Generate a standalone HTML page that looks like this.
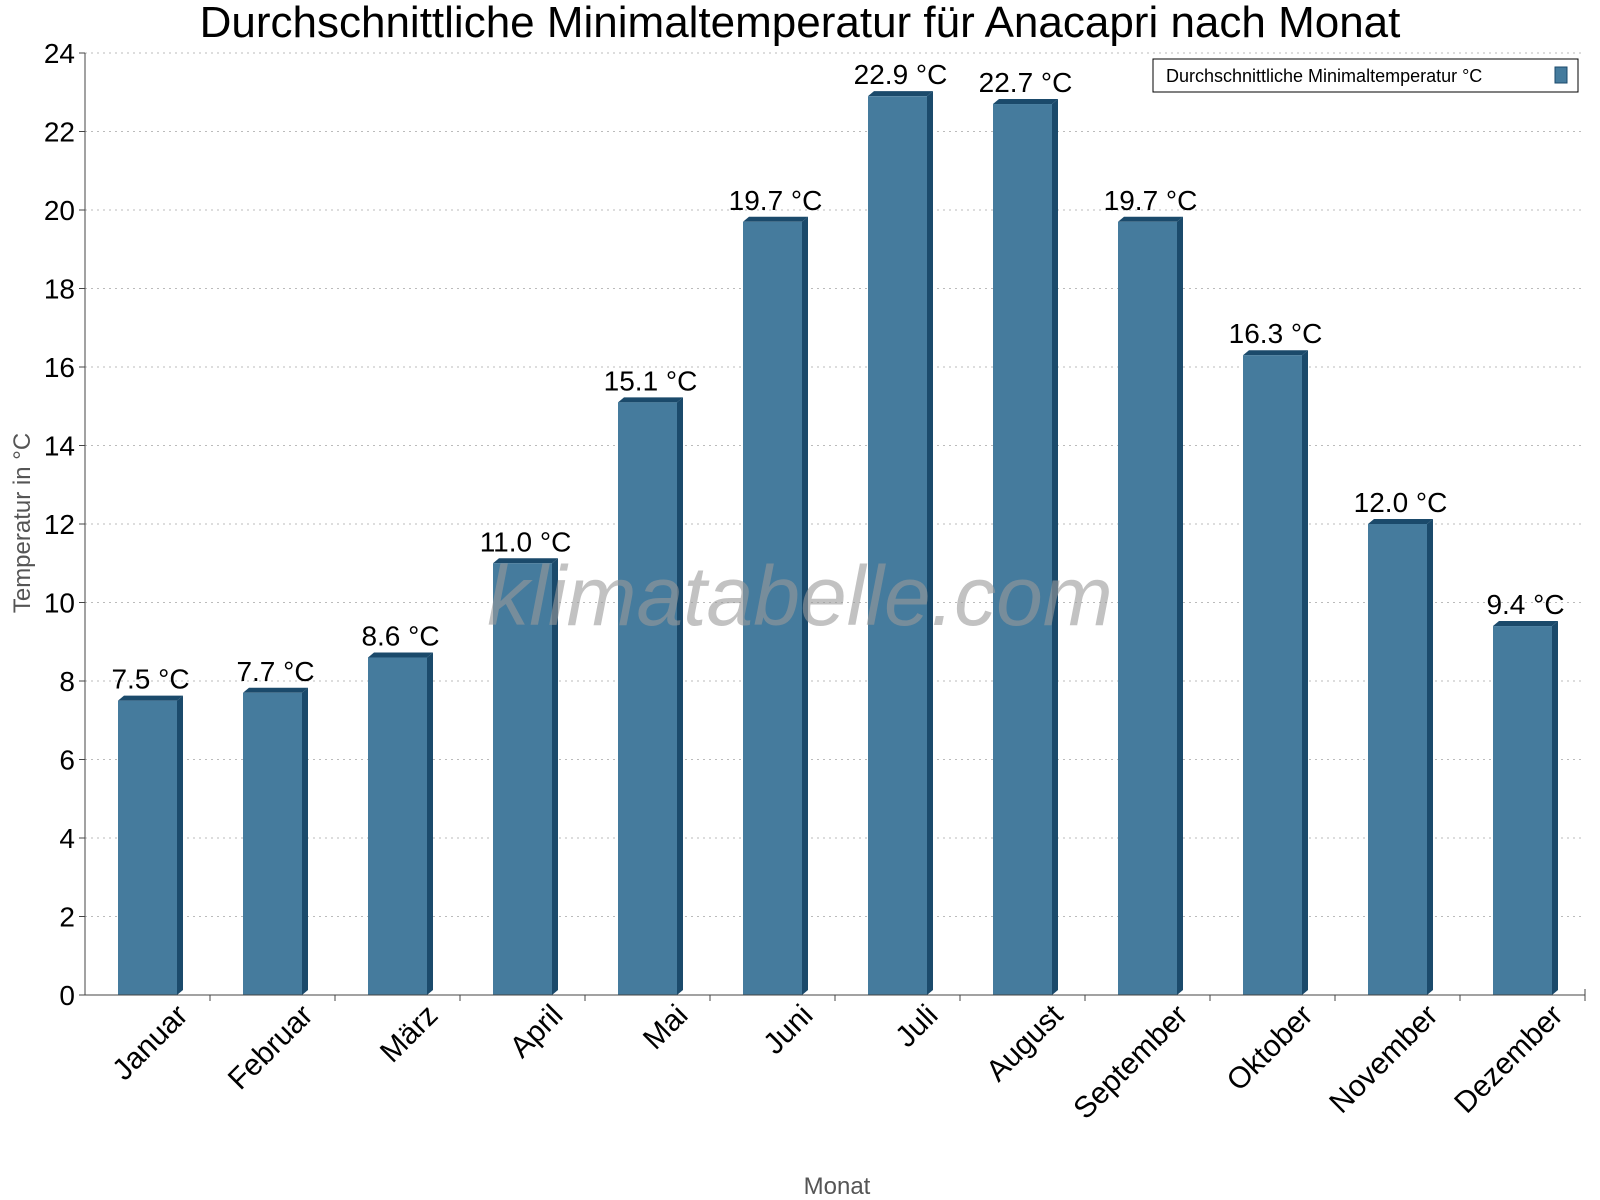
<!DOCTYPE html>
<html><head><meta charset="utf-8"><style>body{margin:0;background:#fff}svg{display:block;font-family:"Liberation Sans",sans-serif}</style></head>
<body>
<svg id="chart" width="1600" height="1200">
<text x="800" y="37" font-size="44" text-anchor="middle">Durchschnittliche Minimaltemperatur für Anacapri nach Monat</text>
<g id="grid"></g><g id="bars"></g><g id="axes"></g>
<text x="800" y="625" font-size="84" font-style="italic" fill="#999" fill-opacity="0.6" text-anchor="middle">klimatabelle.com</text>
<text transform="translate(30,523) rotate(-90)" font-size="24" fill="#555" text-anchor="middle">Temperatur in °C</text>
<text x="837" y="1194" font-size="24" fill="#555" text-anchor="middle">Monat</text>
<g>
<rect x="1153" y="59" width="425" height="33" fill="#fff" stroke="#000"/>
<text x="1166" y="82" font-size="18">Durchschnittliche Minimaltemperatur °C</text>
<rect x="1555" y="67" width="12" height="16" fill="#457b9d" stroke="#1b4a6b"/>
</g>
</svg>
<script>
const categories=["Januar","Februar","März","April","Mai","Juni","Juli","August","September","Oktober","November","Dezember"];
const values=[7.5,7.7,8.6,11.0,15.1,19.7,22.9,22.7,19.7,16.3,12.0,9.4];
const yTicks=[0,2,4,6,8,10,12,14,16,18,20,22,24];
const NS="http://www.w3.org/2000/svg";
const L=85,R=1585,T=53,B=995,yMax=24;
const y=v=>B-v/yMax*(B-T);
const bw=(R-L)/categories.length;
const x=i=>L+bw*i+bw/2;
function mk(t,a,p){const e=document.createElementNS(NS,t);for(const k in a)e.setAttribute(k,a[k]);p.appendChild(e);return e;}
const grid=document.getElementById('grid'),bars=document.getElementById('bars'),axes=document.getElementById('axes');
yTicks.forEach(v=>{
 if(v>0){const g=mk('line',{x1:L,x2:R,y1:y(v),y2:y(v),stroke:'#bbb','stroke-dasharray':'2,4'},grid);
 
 }
 const tk=mk('line',{x1:L-6,x2:L,y1:y(v),y2:y(v),stroke:'#444'},axes);
 
 
 const t=mk('text',{x:L-10,y:y(v)+10,'font-size':28,'text-anchor':'end'},axes);t.textContent=v;
 
 
});
const d=6,w=59;
values.forEach((v,i)=>{
 const cx=x(i),x0=cx-w/2,yt=y(v);
 const g=mk('g',{},bars);
 
 
 mk('polygon',{points:`${x0+w},${yt} ${x0+w+d},${yt-5} ${x0+w+d},${B-5} ${x0+w},${B}`,fill:'#1b4a6b'},g);
 mk('polygon',{points:`${x0},${yt} ${x0+d},${yt-5} ${x0+w+d},${yt-5} ${x0+w},${yt}`,fill:'#1b4a6b'},g);
 mk('rect',{x:x0,y:yt,width:w,height:B-yt,fill:'#457b9d'},g);
 const t=mk('text',{x:cx+3,y:yt-12,'font-size':28,'text-anchor':'middle'},bars);t.textContent=v.toFixed(1)+' °C';
 
 
 const tk=mk('line',{x1:L+bw*(i+1),x2:L+bw*(i+1),y1:B,y2:B+6,stroke:'#444'},axes);
 
 
 const lb=mk('text',{transform:`translate(${cx+42},${B+22}) rotate(-45)`,'font-size':30,'text-anchor':'end'},axes);lb.textContent=categories[i];
 
 
});
const ax=mk('path',{d:`M${L},${T} V${B} H${R} V${B-6}`,stroke:'#444',fill:'none'},axes);


</script>
</body></html>
